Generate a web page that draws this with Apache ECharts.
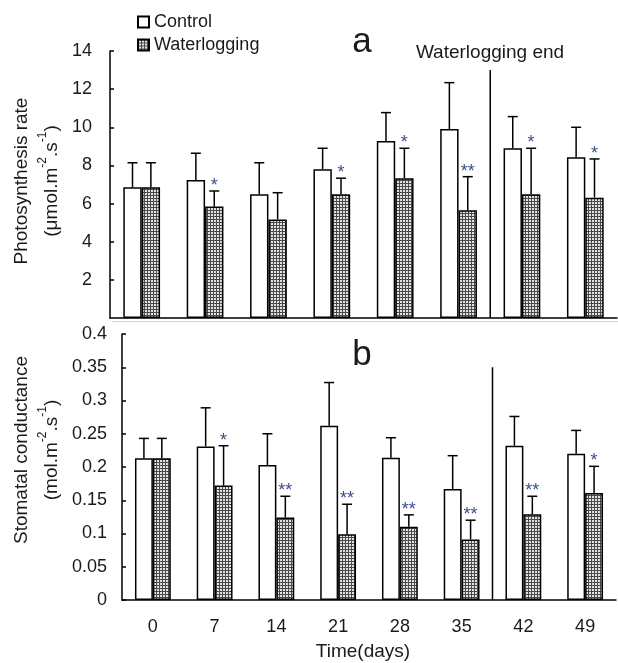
<!DOCTYPE html>
<html><head><meta charset="utf-8">
<script src="https://cdn.jsdelivr.net/npm/echarts@6/dist/echarts.min.js"></script>
<style>html,body{margin:0;padding:0;background:#fff}#c{width:618px;height:663px}</style>
</head><body><div id="c"></div>
<script>
const days = ['0', '7', '14', '21', '28', '35', '42', '49'];
const photoControl = [6.85, 7.24, 6.49, 7.80, 9.28, 9.91, 8.90, 8.43];
const photoControlErr = [1.29, 1.40, 1.65, 1.10, 1.49, 2.43, 1.66, 1.57];
const photoWater = [6.85, 5.84, 5.17, 6.49, 7.33, 5.65, 6.49, 6.31];
const photoWaterErr = [1.29, 0.82, 1.40, 0.84, 1.57, 1.76, 2.41, 2.03];
const photoSig = ['', '*', '', '*', '*', '**', '*', '*'];
const condControl = [0.213, 0.231, 0.203, 0.262, 0.214, 0.167, 0.232, 0.220];
const condControlErr = [0.030, 0.058, 0.047, 0.065, 0.030, 0.050, 0.044, 0.035];
const condWater = [0.213, 0.172, 0.124, 0.099, 0.110, 0.091, 0.129, 0.161];
const condWaterErr = [0.030, 0.060, 0.032, 0.045, 0.018, 0.029, 0.027, 0.040];
const condSig = ['', '*', '**', '**', '**', '**', '**', '*'];
const photoTicks = [0, 14, 2];
const condTicks = [0, 0.4, 0.05];
const endIndex = 5;
const photoEndTop = 13;
const condEndTop = 0.35;

const FONT = 'Liberation Sans, Arial, sans-serif';
const TXT = '#1a1a1a';
const SIGC = '#3b4f8f';
const BAR_FRAC = 0.29;

const pc = document.createElement('canvas');
pc.width = 3; pc.height = 3;
const ctx = pc.getContext('2d');
ctx.fillStyle = '#4a4a4a'; ctx.fillRect(0, 0, 3, 3);
ctx.fillStyle = '#e2e2e2'; ctx.fillRect(1, 1, 2, 2);
const pattern = { image: pc, repeat: 'repeat' };

function errRender(side, sig) {
  return function (params, api) {
    const i = api.value(0), v = api.value(1), e = api.value(2);
    const bw = api.size([1, 0])[0] * BAR_FRAC;
    const base = api.coord([i, v]);
    const top = api.coord([i, v + e]);
    const x = base[0] + side * bw / 2;
    const st = { stroke: '#000', lineWidth: 1.5 };
    const ch = [
      { type: 'line', shape: { x1: x, y1: base[1], x2: x, y2: top[1] }, style: st },
      { type: 'line', shape: { x1: x - 5, y1: top[1], x2: x + 5, y2: top[1] }, style: st }
    ];
    if (sig && sig[i]) {
      ch.push({ type: 'text', x: x, y: top[1] - 5,
        style: { text: sig[i], fill: SIGC, font: '18px ' + FONT, align: 'center', verticalAlign: 'middle' } });
    }
    return { type: 'group', children: ch };
  };
}
function lineRender(params, api) {
  const i = api.value(0), t = api.value(1);
  const w = api.size([1, 0])[0];
  const p0 = api.coord([i, 0]);
  const p1 = api.coord([i, t]);
  const x = p0[0] + w / 2;
  return { type: 'line', shape: { x1: x, y1: p1[1], x2: x, y2: p0[1] }, style: { stroke: '#000', lineWidth: 1.5 } };
}
function errData(vals, errs) { return vals.map((v, i) => [i, v, errs[i]]); }

const axisLine = { lineStyle: { color: '#000', width: 1.5 } };
const tick = { inside: true, length: 5, lineStyle: { color: '#000', width: 1.5 } };
const lbl = { color: TXT, fontSize: 18, fontFamily: FONT };

const chart = echarts.init(document.getElementById('c'), null, { renderer: 'canvas' });
chart.setOption({
  animation: false,
  backgroundColor: '#fff',
  legend: {
    data: ['Control', 'Waterlogging'], orient: 'vertical', left: 132, top: 8,
    itemWidth: 11, itemHeight: 11, itemGap: 5, icon: 'rect',
    textStyle: { color: TXT, fontSize: 18, fontFamily: FONT }
  },
  grid: [
    { left: 110, top: 51, width: 507, height: 267 },
    { left: 122, top: 334, width: 494, height: 266 }
  ],
  xAxis: [
    { type: 'category', data: days, gridIndex: 0, axisLine, axisTick: tick, axisLabel: { show: false }, splitLine: { show: false } },
    { type: 'category', data: days, gridIndex: 1, axisLine, axisTick: tick, axisLabel: Object.assign({ margin: 18 }, lbl), splitLine: { show: false } }
  ],
  yAxis: [
    { type: 'value', gridIndex: 0, min: photoTicks[0], max: photoTicks[1], interval: photoTicks[2], axisLine: { show: true, lineStyle: axisLine.lineStyle },
      axisTick: { show: true, inside: true, length: 4, lineStyle: { color: '#000', width: 1.5 } }, splitLine: { show: false },
      axisLabel: Object.assign({ margin: 18, showMinLabel: false }, lbl) },
    { type: 'value', gridIndex: 1, min: condTicks[0], max: condTicks[1], interval: condTicks[2], axisLine: { show: true, lineStyle: axisLine.lineStyle },
      axisTick: { show: true, inside: true, length: 4, lineStyle: { color: '#000', width: 1.5 } }, splitLine: { show: false },
      axisLabel: Object.assign({ margin: 15 }, lbl) }
  ],
  series: [
    { name: 'Control', type: 'bar', xAxisIndex: 0, yAxisIndex: 0, data: photoControl, barWidth: '29%', barGap: '0%',
      itemStyle: { color: '#fff', borderColor: '#000', borderWidth: 1.5 } },
    { name: 'Waterlogging', type: 'bar', xAxisIndex: 0, yAxisIndex: 0, data: photoWater, barWidth: '29%', barGap: '0%',
      itemStyle: { color: pattern, borderColor: '#000', borderWidth: 1.5 } },
    { name: 'Control', type: 'bar', xAxisIndex: 1, yAxisIndex: 1, data: condControl, barWidth: '29%', barGap: '0%',
      itemStyle: { color: '#fff', borderColor: '#000', borderWidth: 1.5 } },
    { name: 'Waterlogging', type: 'bar', xAxisIndex: 1, yAxisIndex: 1, data: condWater, barWidth: '29%', barGap: '0%',
      itemStyle: { color: pattern, borderColor: '#000', borderWidth: 1.5 } },
    { type: 'custom', xAxisIndex: 0, yAxisIndex: 0, renderItem: errRender(-1, null), data: errData(photoControl, photoControlErr), encode: { x: 0, y: 1 }, z: 5 },
    { type: 'custom', xAxisIndex: 0, yAxisIndex: 0, renderItem: errRender(1, photoSig), data: errData(photoWater, photoWaterErr), encode: { x: 0, y: 1 }, z: 5 },
    { type: 'custom', xAxisIndex: 1, yAxisIndex: 1, renderItem: errRender(-1, null), data: errData(condControl, condControlErr), encode: { x: 0, y: 1 }, z: 5 },
    { type: 'custom', xAxisIndex: 1, yAxisIndex: 1, renderItem: errRender(1, condSig), data: errData(condWater, condWaterErr), encode: { x: 0, y: 1 }, z: 5 },
    { type: 'custom', xAxisIndex: 0, yAxisIndex: 0, renderItem: lineRender, data: [[endIndex, photoEndTop]], encode: { x: 0, y: 1 }, z: 6 },
    { type: 'custom', xAxisIndex: 1, yAxisIndex: 1, renderItem: lineRender, data: [[endIndex, condEndTop]], encode: { x: 0, y: 1 }, z: 6 }
  ],
  graphic: [
    { type: 'line', shape: { x1: 112, y1: 321.5, x2: 618, y2: 321.5 }, style: { stroke: '#d4d4d4', lineWidth: 1 } },
    { type: 'text', x: 362, y: 42, style: { text: 'a', font: '35px ' + FONT, fill: TXT, align: 'center', verticalAlign: 'middle' } },
    { type: 'text', x: 362, y: 355, style: { text: 'b', font: '35px ' + FONT, fill: TXT, align: 'center', verticalAlign: 'middle' } },
    { type: 'text', x: 490, y: 53, style: { text: 'Waterlogging end', font: '19px ' + FONT, fill: TXT, align: 'center', verticalAlign: 'middle' } },
    { type: 'text', x: 363, y: 652, style: { text: 'Time(days)', font: '19px ' + FONT, fill: TXT, align: 'center', verticalAlign: 'middle' } },
    { type: 'text', x: 37, y: 181, rotation: Math.PI / 2,
      style: { text: '{n|Photosynthesis rate}\n{n|(μmol.m}{s|-2}{n|.s}{s|-1}{n|)}', align: 'center', verticalAlign: 'middle', fill: TXT,
        rich: { n: { fontSize: 19, fontFamily: FONT, lineHeight: 30, fill: TXT, color: TXT },
                s: { fontSize: 12, fontFamily: FONT, lineHeight: 14, verticalAlign: 'top', fill: TXT, color: TXT } } } },
    { type: 'text', x: 37, y: 450, rotation: Math.PI / 2,
      style: { text: '{n|Stomatal conductance}\n{n|(mol.m}{s|-2}{n|.s}{s|-1}{n|)}', align: 'center', verticalAlign: 'middle', fill: TXT,
        rich: { n: { fontSize: 19, fontFamily: FONT, lineHeight: 30, fill: TXT, color: TXT },
                s: { fontSize: 12, fontFamily: FONT, lineHeight: 14, verticalAlign: 'top', fill: TXT, color: TXT } } } }
  ]
});
</script></body></html>
